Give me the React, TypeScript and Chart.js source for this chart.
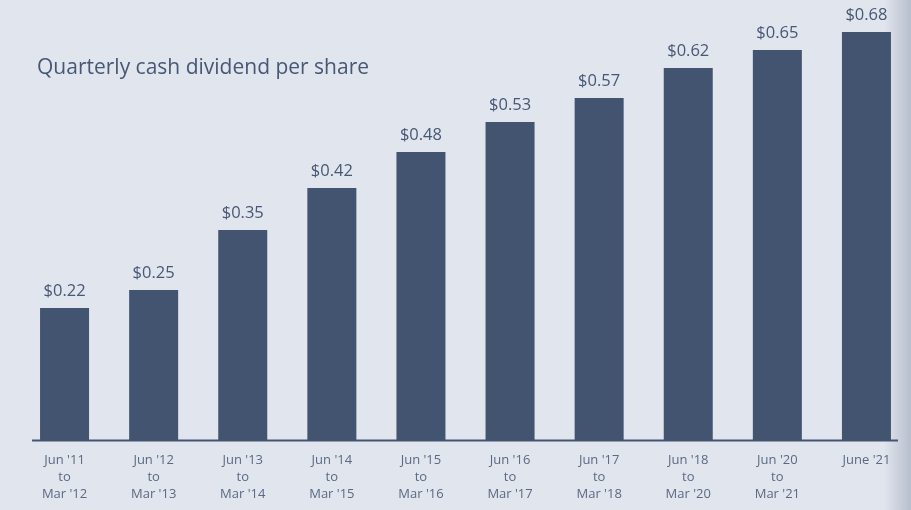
import { useEffect, useRef } from "react";
import { Chart, registerables, type Plugin } from "chart.js";

Chart.register(...registerables);

const periods: string[][] = [
    ["Jun '11", "to", "Mar '12"],
    ["Jun '12", "to", "Mar '13"],
    ["Jun '13", "to", "Mar '14"],
    ["Jun '14", "to", "Mar '15"],
    ["Jun '15", "to", "Mar '16"],
    ["Jun '16", "to", "Mar '17"],
    ["Jun '17", "to", "Mar '18"],
    ["Jun '18", "to", "Mar '20"],
    ["Jun '20", "to", "Mar '21"],
    ["June '21"],
];
const dividends = [0.22, 0.25, 0.35, 0.42, 0.48, 0.53, 0.57, 0.62, 0.65, 0.68];
const title = "Quarterly cash dividend per share";

const BG = "#e1e5ee";
const BAR = "#435470";
const TEXT = "#475874";
const TICK = "#5b6a82";
const FONT = "'Open Sans', 'Noto Sans', sans-serif";

const decorations: Plugin<"bar"> = {
    id: "decorations",
    beforeDraw(chart) {
        const { ctx, width, height } = chart;
        ctx.save();
        ctx.fillStyle = BG;
        ctx.fillRect(0, 0, width, height);
        const shade = ctx.createLinearGradient(884, 0, width, 0);
        shade.addColorStop(0, "rgba(150,160,178,0)");
        shade.addColorStop(1, "rgba(150,160,178,0.55)");
        ctx.fillStyle = shade;
        ctx.fillRect(884, 0, width - 884, height);
        ctx.restore();
    },
    afterDatasetsDraw(chart) {
        const { ctx } = chart;
        const bars = chart.getDatasetMeta(0).data as any[];
        const y0 = chart.scales.y.getPixelForValue(0);
        ctx.save();
        // baseline
        const first = bars[0];
        const last = bars[bars.length - 1];
        ctx.strokeStyle = BAR;
        ctx.lineWidth = 2;
        ctx.beginPath();
        ctx.moveTo(first.x - first.width / 2 - 8, y0 + 0.5);
        ctx.lineTo(last.x + last.width / 2 + 7, y0 + 0.5);
        ctx.stroke();
        // value labels
        ctx.fillStyle = TEXT;
        ctx.font = `16.5px ${FONT}`;
        ctx.textAlign = "center";
        ctx.textBaseline = "middle";
        bars.forEach((bar, i) => {
            ctx.fillText(`$${dividends[i].toFixed(2)}`, bar.x, bar.y - 17);
        });
        // title
        ctx.font = `21px ${FONT}`;
        ctx.textAlign = "left";
        ctx.fillText(title, 37, 68);
        ctx.restore();
    },
};

export default function App() {
    const canvasRef = useRef<HTMLCanvasElement>(null);
    const chartRef = useRef<Chart | null>(null);

    useEffect(() => {
        if (!canvasRef.current) return;
        if (chartRef.current) chartRef.current.destroy();

        chartRef.current = new Chart(canvasRef.current, {
            type: "bar",
            data: {
                labels: periods,
                datasets: [
                    {
                        label: "Dividend",
                        data: dividends,
                        backgroundColor: BAR,
                        borderWidth: 0,
                        barPercentage: 0.55,
                        categoryPercentage: 1,
                    },
                ],
            },
            options: {
                animation: false,
                responsive: false,
                maintainAspectRatio: false,
                layout: { padding: { left: 20, right: 0, top: 20, bottom: 0 } },
                plugins: {
                    legend: { display: false },
                    tooltip: { enabled: false },
                    title: { display: false },
                },
                scales: {
                    x: {
                        grid: { display: false, drawTicks: false },
                        border: { display: false },
                        ticks: {
                            color: TICK,
                            font: { family: FONT, size: 13, lineHeight: 1.3 },
                            padding: 12,
                            maxRotation: 0,
                            autoSkip: false,
                        },
                        afterFit: (axis) => { axis.height = 70; },
                    },
                    y: {
                        display: false,
                        min: 0,
                        max: 0.7,
                    },
                },
            },
            plugins: [decorations],
        });

        return () => { chartRef.current?.destroy(); };
    }, []);

    return (
        <div style={{ position: "fixed", left: 0, top: 0, width: 911, height: 510 }}>
            <canvas ref={canvasRef} width={911} height={510} style={{ width: 911, height: 510 }} />
        </div>
    );
}
